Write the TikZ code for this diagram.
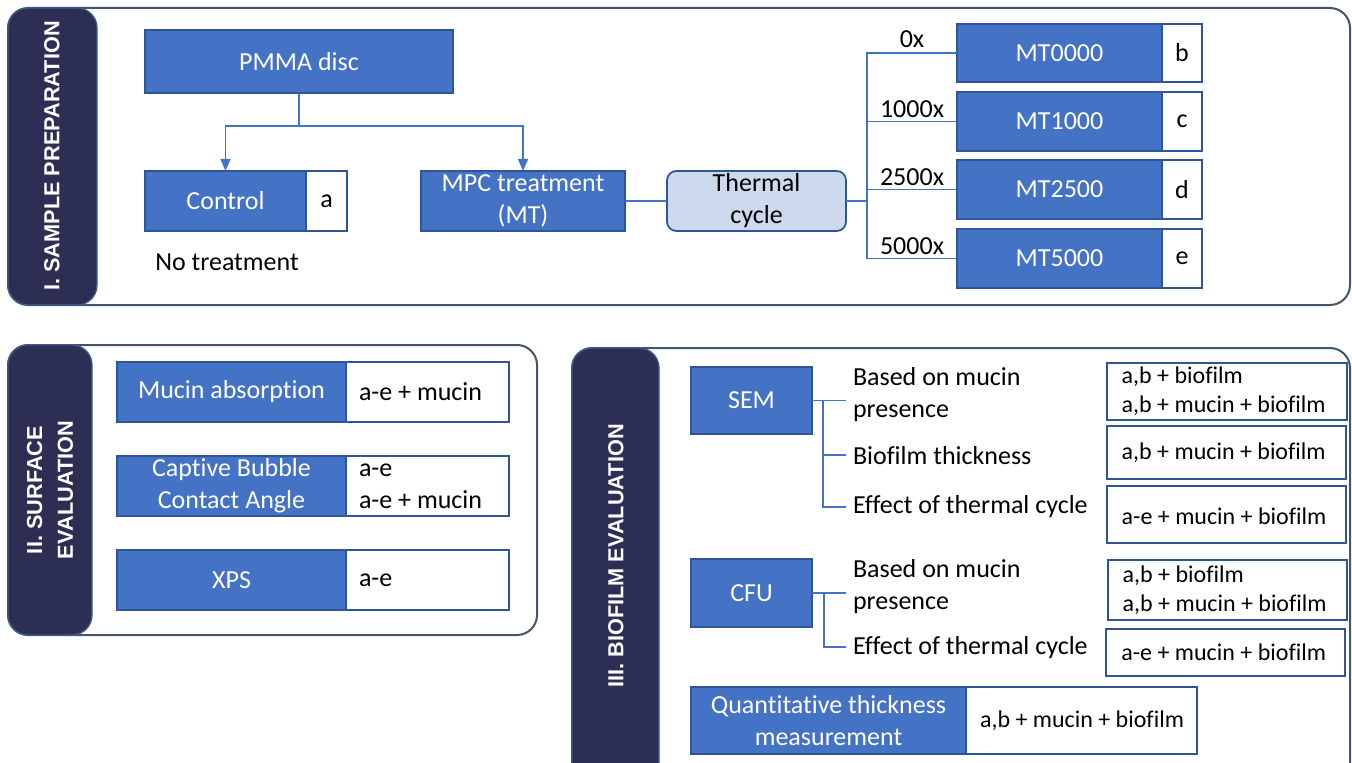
\documentclass[tikz,border=0pt]{standalone}
\usepackage{fontspec}
\setmainfont{Carlito}[Ligatures=NoCommon]
\newfontfamily\headfont{Liberation Sans}
\usetikzlibrary{arrows.meta}

\definecolor{boxblue}{HTML}{4472C4}
\definecolor{boxedge}{HTML}{2F5597}
\definecolor{tabnavy}{HTML}{2C2E54}
\definecolor{tabedge}{HTML}{3C5A8C}
\definecolor{frameedge}{HTML}{44546A}
\definecolor{cyclefill}{HTML}{CDDAEE}

\newcommand\mainsize{\fontsize{19.5}{24}\selectfont}
\newcommand\valsize{\fontsize{18}{21.5}\selectfont}

% a rectangular node given by its corners (x1,y1)-(x2,y2) in pixel units
\newcommand\cell[7]{\node[#1, minimum width={(#5-#3)*0.75pt}, minimum height={(#6-#4)*0.75pt}] (#2) at ({(#3+#5)/2},{(#4+#6)/2}) {#7};}

\tikzset{
  every node/.style={inner sep=0pt, outer sep=0pt},
  frame/.style={draw=frameedge, line width=1.5pt, rounded corners=15pt, fill=white},
  tab/.style={fill=tabnavy, draw=tabedge, line width=1pt, rounded corners=15pt},
  tabtext/.style={text=white, font=\headfont\bfseries\fontsize{16.3}{23}\selectfont, rotate=90, align=center},
  bluebox/.style={fill=boxblue, draw=boxedge, line width=1.1pt, text=white, font=\mainsize, align=center},
  letterbox/.style={fill=white, draw=boxedge, line width=1.1pt, text=black, font=\mainsize},
  cyclebox/.style={fill=cyclefill, draw=boxedge, line width=1.3pt, rounded corners=7pt, text=black, font=\mainsize, align=center},
  plainbox/.style={fill=white, draw=boxedge, line width=1.1pt},
  resbox/.style={fill=white, draw=boxedge, line width=1.4pt},
  plain/.style={text=black, font=\mainsize, align=left},
  valtext/.style={text=black, font=\mainsize, align=left},
  restext/.style={text=black, font=\valsize, align=left},
  count/.style={text=black, font=\mainsize},
  conn/.style={draw=boxblue, line width=1pt},
  arr/.style={-{Triangle[width=7.5pt,length=9pt]}},
}

\begin{document}
\begin{tikzpicture}[x=0.75pt, y=-0.75pt]
\useasboundingbox (0,0) rectangle (1352,763);
\clip (0,0) rectangle (1352,763);

% ---------- I. Sample preparation ----------
\draw[frame] (8,8) rectangle (1350,305);
\draw[tab] (8,8) rectangle (97,305);
\node[tabtext] (titleI) at (52,156) {I. SAMPLE PREPARATION};

\cell{bluebox}{pmma}{145}{30}{453}{93}{PMMA disc}
\cell{bluebox}{ctl}{145}{171}{306}{231}{Control}
\cell{letterbox}{ctlid}{306}{171}{347}{231}{a}
\node[plain] (notreat) at (227,262) {No treatment};
\cell{bluebox}{mpc}{421}{171}{625}{231}{MPC treatment\\(MT)}
\cell{cyclebox}{cycle}{667}{171}{846}{231}{Thermal\\cycle}

\cell{bluebox}{mt0}{957}{24}{1162}{82}{MT0000}
\cell{letterbox}{mt0id}{1162}{24}{1202}{82}{b}
\cell{bluebox}{mt1}{957}{92}{1162}{151}{MT1000}
\cell{letterbox}{mt1id}{1162}{92}{1202}{151}{c}
\cell{bluebox}{mt2}{957}{160}{1162}{219}{MT2500}
\cell{letterbox}{mt2id}{1162}{160}{1202}{219}{d}
\cell{bluebox}{mt3}{957}{229}{1162}{288}{MT5000}
\cell{letterbox}{mt3id}{1162}{229}{1202}{288}{e}

\coordinate (split) at (299,126);
\draw[conn] (pmma.south) -- (split);
\draw[conn,arr] (split) -| (ctl.north);
\draw[conn,arr] (split) -| (mpc.north);
\draw[conn] (mpc.east) -- (cycle.west);

\coordinate (fan) at (867,201);
\draw[conn] (cycle.east) -- (fan);
\draw[conn] (fan) |- node[pos=0.75, above=4pt, count] (n0) {0x} (mt0.west);
\draw[conn] (fan) |- node[pos=0.75, above=3pt, count] (n1) {1000x} (mt1.west);
\draw[conn] (fan) |- node[pos=0.75, above=3pt, count] (n2) {2500x} (mt2.west);
\draw[conn] (fan) |- node[pos=0.75, above=3pt, count] (n3) {5000x} (mt3.west);

% ---------- II. Surface evaluation ----------
\draw[frame] (8,345) rectangle (537,635);
\draw[tab] (8,345) rectangle (92,635);
\node[tabtext] (titleII) at (50,490) {II. SURFACE\\EVALUATION};

\cell{bluebox}{mucin}{117}{362}{346}{422}{Mucin absorption}
\cell{plainbox}{mucinval}{346}{362}{509}{422}{}
\node[valtext, anchor=west] (mucinvaltext) at ([xshift=9.75pt]mucinval.west) {a-e + mucin};

\cell{bluebox}{cbca}{117}{456}{346}{516}{Captive Bubble\\Contact Angle}
\cell{plainbox}{cbcaval}{346}{456}{509}{516}{}
\node[valtext, anchor=west] (cbcavaltext) at ([xshift=9.75pt]cbcaval.west) {a-e\\a-e + mucin};

\cell{bluebox}{xps}{117}{550}{346}{610}{XPS}
\cell{plainbox}{xpsval}{346}{550}{509}{610}{}
\node[valtext, anchor=west] (xpsvaltext) at ([xshift=9.75pt]xpsval.west) {a-e};

% ---------- III. Biofilm evaluation ----------
\draw[frame] (572,348) rectangle (1350,790);
\draw[tab] (572,348) rectangle (659,790);
\node[tabtext] (titleIII) at (616,556) {III. BIOFILM EVALUATION};

% SEM
\cell{bluebox}{sem}{691}{367}{812}{434}{SEM}
\node[plain, anchor=west] (semq1) at (853,395) {Based on mucin\\presence};
\node[plain, anchor=west] (semq2) at (853,456) {Biofilm thickness};
\node[plain, anchor=west] (semq3) at (853,507) {Effect of thermal cycle};
\coordinate (semJ) at (823,400.5);
\coordinate (semA) at (846,400.5);
\coordinate (semB) at (846,455);
\coordinate (semC) at (846,507);
\draw[conn] (sem.east) -- (semA);
\draw[conn] (semJ) |- (semB);
\draw[conn] (semJ) |- (semC);

\cell{resbox}{semr1}{1107}{363}{1347}{420}{}
\node[restext, anchor=west] (semr1t) at ([xshift=11pt]semr1.west) {a,b + biofilm\\a,b + mucin + biofilm};
\cell{resbox}{semr2}{1107}{426}{1346}{479}{}
\node[restext, anchor=west] (semr2t) at ([xshift=11pt]semr2.west) {a,b + mucin + biofilm};
\cell{resbox}{semr3}{1107}{486}{1346}{543}{}
\node[restext, anchor=west] (semr3t) at ([xshift=11pt,yshift=-1pt]semr3.west) {a-e + mucin + biofilm};

% CFU
\cell{bluebox}{cfu}{691}{559}{812}{627}{CFU}
\node[plain, anchor=west] (cfuq1) at (853,587) {Based on mucin\\presence};
\node[plain, anchor=west] (cfuq2) at (853,648) {Effect of thermal cycle};
\coordinate (cfuJ) at (824,593);
\coordinate (cfuA) at (846,593);
\coordinate (cfuB) at (846,647);
\draw[conn] (cfu.east) -- (cfuA);
\draw[conn] (cfuJ) |- (cfuB);

\cell{resbox}{cfur1}{1108}{560}{1347}{620}{}
\node[restext, anchor=west] (cfur1t) at ([xshift=11pt]cfur1.west) {a,b + biofilm\\a,b + mucin + biofilm};
\cell{resbox}{cfur2}{1106}{629}{1345}{676}{}
\node[restext, anchor=west] (cfur2t) at ([xshift=11.5pt]cfur2.west) {a-e + mucin + biofilm};

% quantitative thickness
\cell{bluebox}{quant}{691}{687}{966}{754}{Quantitative thickness\\measurement}
\cell{resbox}{quantval}{966}{687}{1197}{754}{}
\node[restext, anchor=west] (quantvalt) at ([xshift=10.5pt]quantval.west) {a,b + mucin + biofilm};
\end{tikzpicture}
\end{document}
